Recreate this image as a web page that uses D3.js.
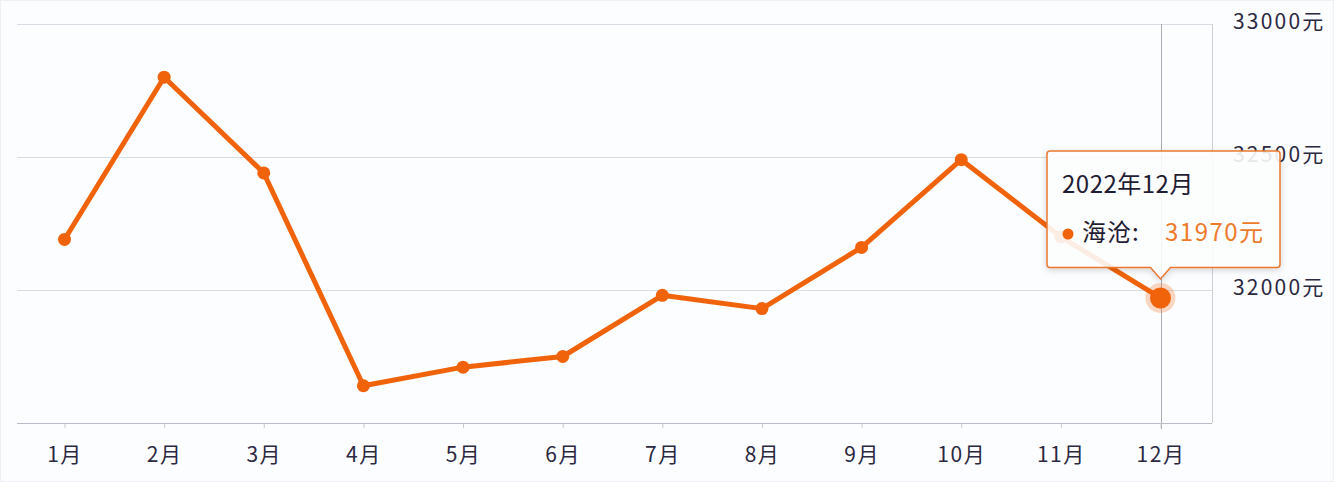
<!DOCTYPE html>
<html><head><meta charset="utf-8">
<script src="https://cdn.jsdelivr.net/npm/d3@7"></script>
<style>
html,body{margin:0;padding:0;background:#fcfdfe;}
svg{display:block;font-family:"Noto Sans CJK SC","Noto Sans",sans-serif;}
</style></head><body>
<svg id="c" width="1334" height="482"></svg>
<script>
const months = ["1月","2月","3月","4月","5月","6月","7月","8月","9月","10月","11月","12月"];
const prices = [32190,32800,32440,31640,31710,31750,31980,31930,32160,32490,32200,31970];
const yTicks = [32000,32500,33000];
const seriesName = "海沧";
const tooltipTitle = "2022年12月";
const activeIndex = 11;

(function(){
const svg = d3.select("#c");
const W = 1334, H = 482;
const pLeft = 17, pRight = 1212, pTop = 24, pBottom = 423;
const color = "#f0630b";
const txt = "#2b2842";
const ff = "'Noto Sans CJK SC','Noto Sans',sans-serif";

svg.append("rect").attr("width",W).attr("height",H).attr("fill","#fcfdfe");
svg.append("rect").attr("x",0.5).attr("y",0.5).attr("width",W-1).attr("height",H-1)
  .attr("fill","none").attr("stroke","#eef0f4");

const x = d3.scalePoint().domain(months).range([64.5,1160.5]);
const y = d3.scaleLinear().domain([31500,33000]).range([pBottom,pTop]);

// gridlines
svg.append("g").selectAll("line").data(yTicks).join("line")
  .attr("x1",pLeft).attr("x2",pRight)
  .attr("y1",d=>Math.round(y(d))+0.5).attr("y2",d=>Math.round(y(d))+0.5)
  .attr("stroke","#d9dce4").attr("stroke-width",1);
// right border
svg.append("line").attr("x1",pRight+0.5).attr("x2",pRight+0.5)
  .attr("y1",Math.round(y(33000))).attr("y2",pBottom)
  .attr("stroke","#cdd0d8");

// crosshair
svg.append("line").attr("x1",Math.round(x(months[activeIndex]))+0.5).attr("x2",Math.round(x(months[activeIndex]))+0.5)
  .attr("y1",Math.round(y(33000))).attr("y2",pBottom+6)
  .attr("stroke","#a9acb4").attr("stroke-width",1);

// x axis
const xa = svg.append("g").attr("transform",`translate(0,${pBottom})`)
  .call(d3.axisBottom(x).tickSize(5).tickPadding(19));
xa.select(".domain").attr("d",`M${pLeft},0.5H${pRight}`).attr("stroke","#b9bcc7");
xa.selectAll(".tick line").attr("stroke","#c5c8d0");
xa.selectAll("text").attr("fill",txt).attr("font-size",21).attr("letter-spacing","1.5px")
  .attr("font-family",ff);

// y axis right
const ya = svg.append("g").attr("transform",`translate(${pRight},0)`)
  .call(d3.axisRight(y).tickValues(yTicks).tickSize(0).tickPadding(21).tickFormat(d=>d+"元"));
ya.select(".domain").remove();
ya.selectAll("text").attr("fill",txt).attr("font-size",21).attr("letter-spacing","2.2px")
  .attr("dy","0.2em").attr("font-family",ff);

// line
const line = d3.line().x((d,i)=>x(months[i])).y(d=>y(d));
svg.append("path").datum(prices).attr("d",line).attr("fill","none")
  .attr("stroke",color).attr("stroke-width",5).attr("stroke-linejoin","round");
svg.append("g").selectAll("circle").data(prices).join("circle")
  .attr("cx",(d,i)=>x(months[i])).attr("cy",d=>y(d))
  .attr("r",(d,i)=>i===activeIndex?0:6.5).attr("fill",color);

// active point
const ax = x(months[activeIndex]), ay = y(prices[activeIndex]);
svg.append("circle").attr("cx",ax).attr("cy",ay).attr("r",15).attr("fill",color).attr("opacity",0.25);
svg.append("circle").attr("cx",ax).attr("cy",ay).attr("r",10.5).attr("fill",color);

// tooltip
const defs = svg.append("defs");
const f = defs.append("filter").attr("id","sh").attr("x","-20%").attr("y","-20%").attr("width","140%").attr("height","150%");
f.append("feDropShadow").attr("dx",0).attr("dy",2).attr("stdDeviation",3).attr("flood-color","#000").attr("flood-opacity",0.18);
const tx0 = 1047, tx1 = 1280, ty0 = 151, ty1 = 267.5, tipY = ay - 19, r = 3;
const p = `M${tx0+r},${ty0} H${tx1-r} Q${tx1},${ty0} ${tx1},${ty0+r} V${ty1-r} Q${tx1},${ty1} ${tx1-r},${ty1}
 H${ax+10} L${ax},${tipY} L${ax-10},${ty1} H${tx0+r} Q${tx0},${ty1} ${tx0},${ty1-r} V${ty0+r} Q${tx0},${ty0} ${tx0+r},${ty0} Z`;
svg.append("path").attr("d",p).attr("fill","rgba(255,255,255,0.88)")
  .attr("stroke","#e9782f").attr("stroke-width",1.5).attr("filter","url(#sh)");
svg.append("text").attr("x",1062).attr("y",193).text(tooltipTitle)
  .attr("font-size",24).attr("fill","#1f1c33").attr("letter-spacing","0.5px").attr("font-family",ff);
svg.append("circle").attr("cx",1068).attr("cy",234).attr("r",5.5).attr("fill",color);
svg.append("text").attr("x",1082).attr("y",241).text(seriesName+":")
  .attr("font-size",24).attr("fill","#1f1c33").attr("letter-spacing","1px").attr("font-family",ff);
svg.append("text").attr("x",1165).attr("y",241).text(prices[activeIndex]+"元")
  .attr("font-size",24).attr("fill","#ee7a2c").attr("letter-spacing","1.5px").attr("font-family",ff);
})();
</script>
</body></html>
